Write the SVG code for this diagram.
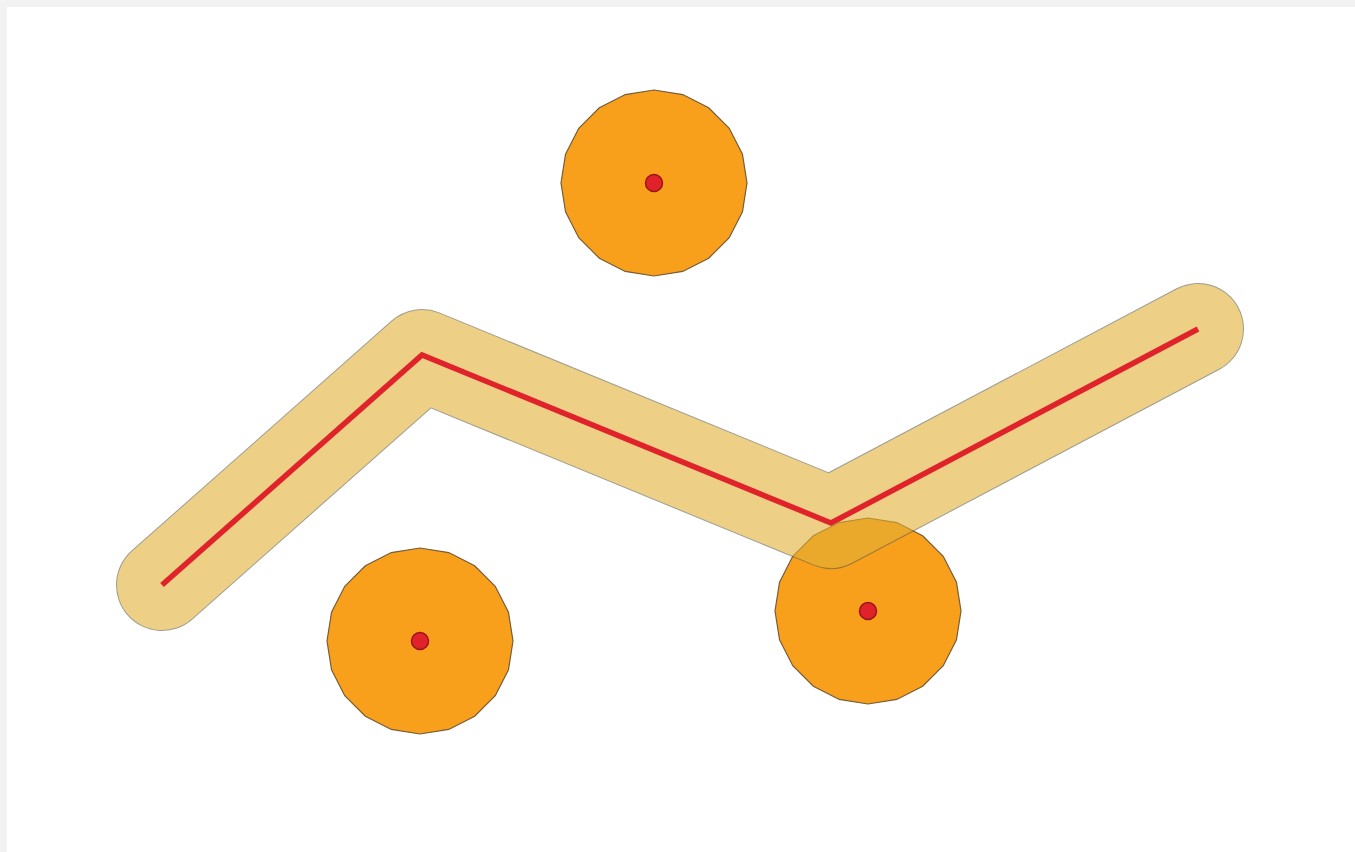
<svg xmlns="http://www.w3.org/2000/svg" width="1355" height="852" viewBox="0 0 1355 852">
<style>
.disc{fill:#f8a01c;stroke:#765c38;stroke-width:1.2}
.pt{fill:#e0232b;stroke:#9a1418;stroke-width:1.5}
.bufout{fill:none;stroke:#5e5e48;stroke-width:92;stroke-linejoin:round;stroke-linecap:round}
.bufin{fill:none;stroke:#e2b036;stroke-width:90;stroke-linejoin:round;stroke-linecap:round}
.line{fill:none;stroke:#e0232b;stroke-width:5.5;stroke-linejoin:miter}
</style>
<defs>
<polygon id="gon" points="93,0 88.45,28.74 75.24,54.66 54.66,75.24 28.74,88.45 0,93 -28.74,88.45 -54.66,75.24 -75.24,54.66 -88.45,28.74 -93,0 -88.45,-28.74 -75.24,-54.66 -54.66,-75.24 -28.74,-88.45 0,-93 28.74,-88.45 54.66,-75.24 75.24,-54.66 88.45,-28.74"/>
</defs>
<rect x="0" y="0" width="1355" height="852" fill="#f2f2f2"/>
<rect x="7" y="7" width="1348" height="845" fill="#ffffff"/>
<g id="disc-top"><use href="#gon" class="disc" transform="translate(654,183)"/></g>
<g id="disc-left"><use href="#gon" class="disc" transform="translate(420,641)"/></g>
<g id="disc-right"><use href="#gon" class="disc" transform="translate(868,611)"/></g>
<g id="buffer" opacity="0.6">
<polyline class="bufout" points="162,585 422,355 831,523 1198,329"/>
<polyline class="bufin" points="162,585 422,355 831,523 1198,329"/>
</g>
<g id="connectors">
<polyline class="line" points="162,585 422,355 831,523 1198,329"/>
</g>
<g id="point-top"><circle class="pt" cx="654" cy="183" r="8.5"/></g>
<g id="point-left"><circle class="pt" cx="420" cy="641" r="8.5"/></g>
<g id="point-right"><circle class="pt" cx="868" cy="611" r="8.5"/></g>
</svg>
